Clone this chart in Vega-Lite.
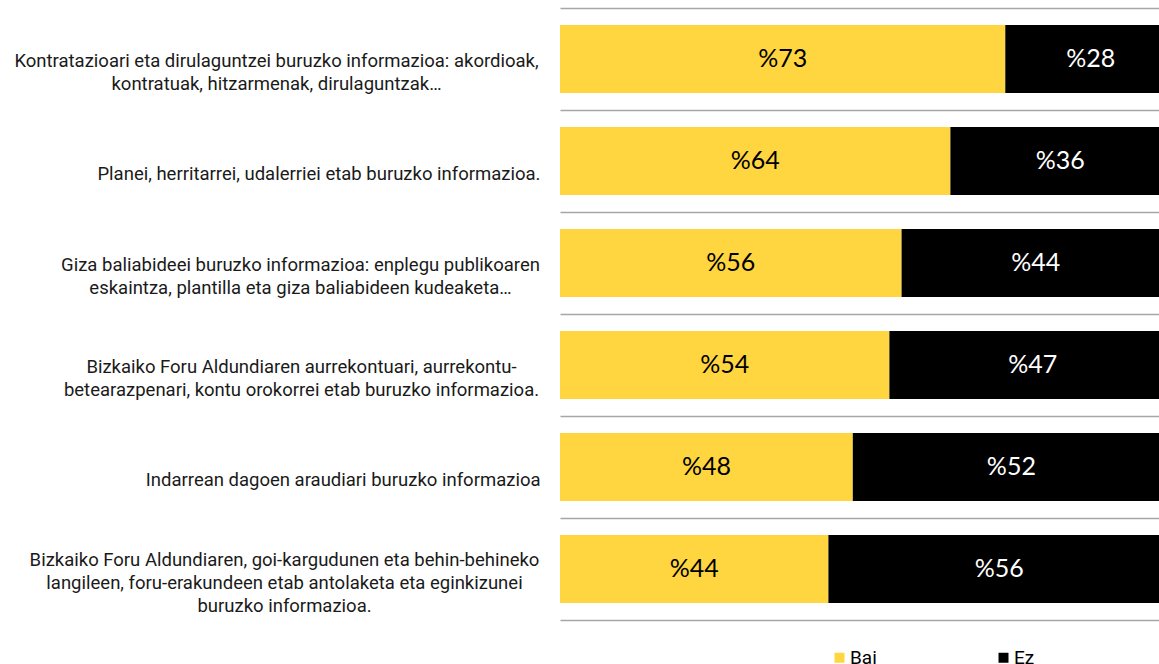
{
  "$schema": "https://vega.github.io/schema/vega-lite/v6.json",
  "autosize": "none",
  "padding": {"left": 560, "top": 8, "right": 0, "bottom": 44},
  "width": 599,
  "height": 612,
  "background": "white",
  "config": {"view": {"stroke": null}, "font": "Roboto"},
  "data": {
    "values": [
      {"item": "Kontratazioari eta dirulaguntzei buruzko informazioa: akordioak,|kontratuak, hitzarmenak, dirulaguntzak…", "answer": "Bai", "value": 73},
      {"item": "Kontratazioari eta dirulaguntzei buruzko informazioa: akordioak,|kontratuak, hitzarmenak, dirulaguntzak…", "answer": "Ez", "value": 28},
      {"item": "Planei, herritarrei, udalerriei etab buruzko informazioa.", "answer": "Bai", "value": 64},
      {"item": "Planei, herritarrei, udalerriei etab buruzko informazioa.", "answer": "Ez", "value": 36},
      {"item": "Giza baliabideei buruzko informazioa: enplegu publikoaren|eskaintza, plantilla eta giza baliabideen kudeaketa…", "answer": "Bai", "value": 56},
      {"item": "Giza baliabideei buruzko informazioa: enplegu publikoaren|eskaintza, plantilla eta giza baliabideen kudeaketa…", "answer": "Ez", "value": 44},
      {"item": "Bizkaiko Foru Aldundiaren aurrekontuari, aurrekontu-|betearazpenari, kontu orokorrei etab buruzko informazioa.", "answer": "Bai", "value": 54},
      {"item": "Bizkaiko Foru Aldundiaren aurrekontuari, aurrekontu-|betearazpenari, kontu orokorrei etab buruzko informazioa.", "answer": "Ez", "value": 47},
      {"item": "Indarrean dagoen araudiari buruzko informazioa", "answer": "Bai", "value": 48},
      {"item": "Indarrean dagoen araudiari buruzko informazioa", "answer": "Ez", "value": 52},
      {"item": "Bizkaiko Foru Aldundiaren, goi-kargudunen eta behin-behineko|langileen, foru-erakundeen etab antolaketa eta eginkizunei|buruzko informazioa.", "answer": "Bai", "value": 44},
      {"item": "Bizkaiko Foru Aldundiaren, goi-kargudunen eta behin-behineko|langileen, foru-erakundeen etab antolaketa eta eginkizunei|buruzko informazioa.", "answer": "Ez", "value": 56}
    ]
  },
  "encoding": {
    "y": {
      "field": "item",
      "type": "nominal",
      "sort": null,
      "title": null,
      "scale": {"paddingInner": 0, "paddingOuter": 0},
      "axis": {
        "tickBand": "extent",
        "grid": true,
        "gridColor": "#a6a6a6",
        "gridWidth": 1.5,
        "domain": false,
        "ticks": false,
        "labelExpr": "split(datum.label, '|')",
        "labelFont": "Roboto",
        "labelFontSize": 18.5,
        "labelColor": "#1a1a1a",
        "labelLineHeight": 23,
        "labelLimit": 600,
        "labelBaseline": "middle",
        "labelAlign": {
          "condition": {"test": "isString(datum.value) && indexof(datum.value, '|') >= 0", "value": "center"},
          "value": "right"
        },
        "labelPadding": {
          "condition": [
            {"test": "isString(datum.value) && indexof(datum.value, 'Kontratazioari') >= 0", "value": 284},
            {"test": "isString(datum.value) && indexof(datum.value, 'Giza baliabideei') >= 0", "value": 260},
            {"test": "isString(datum.value) && indexof(datum.value, 'aurrekontuari') >= 0", "value": 259},
            {"test": "isString(datum.value) && indexof(datum.value, 'goi-kargudunen') >= 0", "value": 276}
          ],
          "value": 20
        },
        "labelOffset": {
          "condition": [
            {"test": "isString(datum.value) && indexof(datum.value, 'goi-kargudunen') >= 0", "value": -10},
            {"test": "isString(datum.value) && indexof(datum.value, '|') >= 0", "value": 1}
          ],
          "value": 12
        }
      }
    },
    "x": {
      "field": "value",
      "type": "quantitative",
      "stack": "zero",
      "scale": {"domain": [0, 98.2], "nice": false, "zero": true},
      "axis": null
    }
  },
  "layer": [
    {
      "mark": {"type": "bar", "clip": true, "height": {"band": 0.667}},
      "encoding": {
        "color": {
          "field": "answer",
          "type": "nominal",
          "scale": {"domain": ["Bai", "Ez"], "range": ["#FFD640", "#000000"]},
          "legend": {
            "title": null,
            "orient": "none",
            "direction": "horizontal",
            "legendX": 270,
            "legendY": 640,
            "symbolType": "square",
            "symbolSize": 100,
            "symbolStrokeWidth": 0,
            "symbolOpacity": 1,
            "labelFont": "Roboto",
            "labelFontSize": 19,
            "labelColor": "#000000",
            "labelOffset": 1,
            "columnPadding": 117
          }
        }
      }
    },
    {
      "mark": {
        "type": "text",
        "font": "Lato",
        "fontSize": 25,
        "baseline": "middle",
        "align": "center",
        "text": {"expr": "'%' + datum.value"}
      },
      "encoding": {
        "x": {"field": "value", "type": "quantitative", "stack": "zero", "bandPosition": 0.5},
        "detail": {"field": "answer"},
        "color": {"condition": {"test": "datum.answer === 'Ez'", "value": "#ffffff"}, "value": "#000000"}
      }
    }
  ]
}
